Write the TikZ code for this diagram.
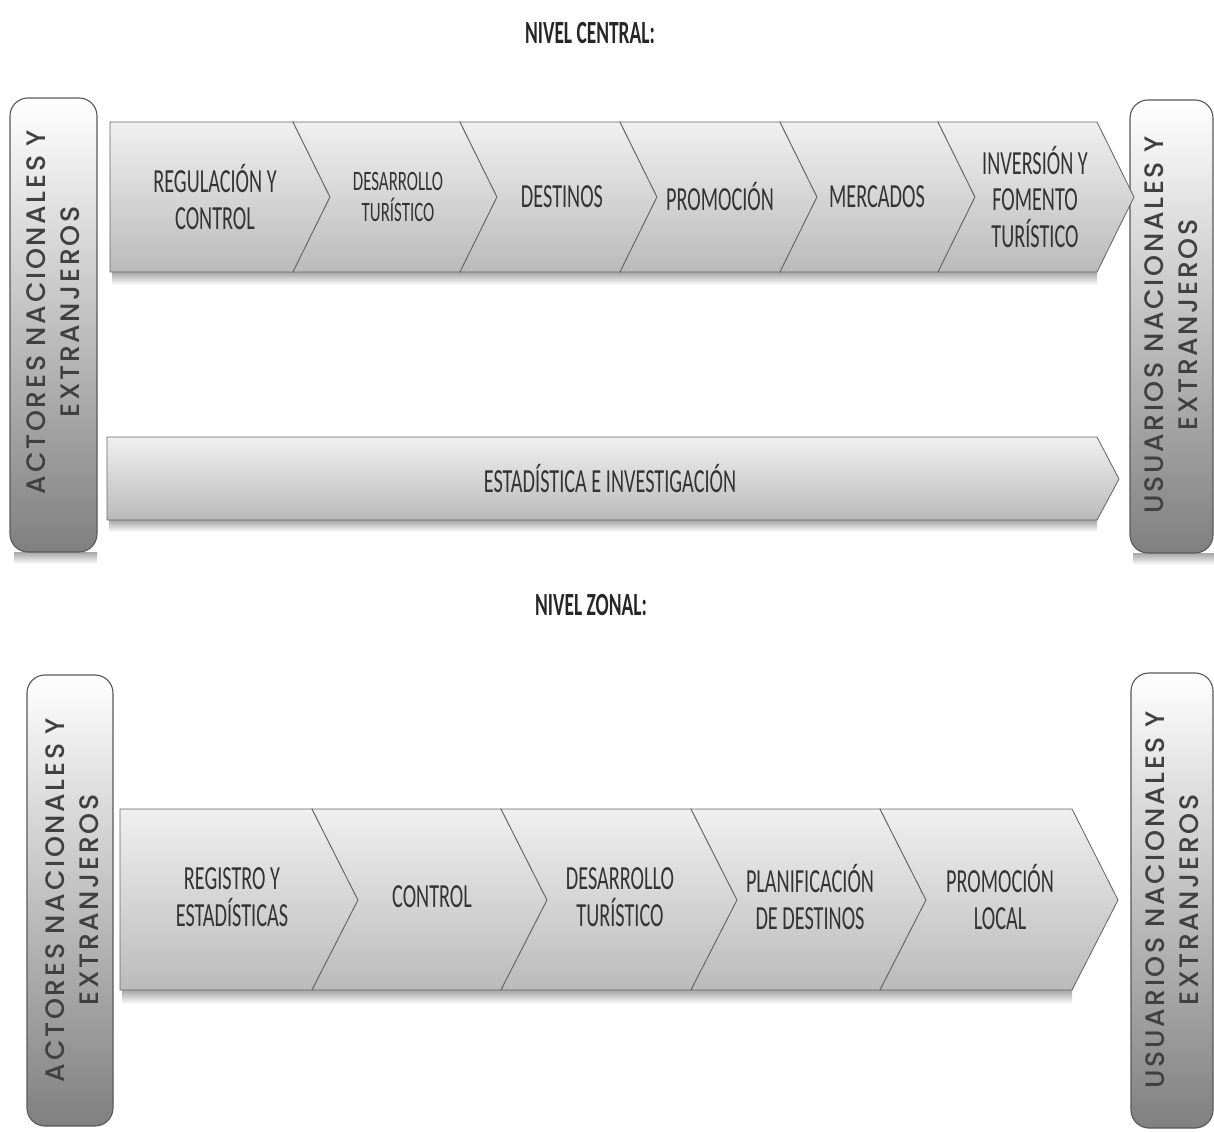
\documentclass[tikz,border=0pt]{standalone}
\usepackage{fontspec}
\newfontfamily\stagefont[FakeStretch=0.6]{Carlito}
\newfontfamily\actorfont[LetterSpace=10]{Poppins Medium}

\begin{document}
\begin{tikzpicture}[x=0.025cm,y=-0.025cm]
            \tikzset{stage/.style = {draw=black!60,line width=0.6pt,top color=black!6,bottom color=black!27}}
            \tikzset{actorbox/.style = {draw=black!65,line width=0.8pt,rounded corners=0.45cm,top color=white,bottom color=black!50}}
            \tikzset{shadebelow/.style = {top color=black!35,bottom color=white,draw=none}}
            \tikzset{steptext/.style = {align=center,text=black!80,font=\stagefont\fontsize{24}{26}\selectfont}}
            \tikzset{smallsteptext/.style = {steptext,font=\stagefont\fontsize{20}{22}\selectfont}}
            \tikzset{headtext/.style = {text=black!85,font=\stagefont\bfseries\fontsize{23}{25}\selectfont}}
            \tikzset{actortext/.style = {rotate=90,align=center,text=black!75,font=\actorfont\fontsize{19}{24}\selectfont}}
            \useasboundingbox (0,0) rectangle (1214,1131);

            % nivel central
            \node[headtext] (central) at (590,33) {NIVEL CENTRAL:};
            \path[shadebelow] (14,552) rectangle (97,564);
            \path[shadebelow] (1133,553) rectangle (1214,565);
            \path[actorbox] (10,98) rectangle (97,552);
            \path[actorbox] (1130,100) rectangle (1213,553);
            \node[actortext] (actc) at (53,312) {ACTORES NACIONALES Y\\EXTRANJEROS};
            \node[actortext] (usuc) at (1171,325) {USUARIOS NACIONALES Y\\EXTRANJEROS};

            \path[shadebelow] (112,272) rectangle (1097,285);
            \path[stage] (110,122) -- (293,122) -- (330,197) -- (293,272) -- (110,272) -- cycle;
            \foreach \xa/\xb in {293/460,460/620,620/780,780/938,938/1097}
                \path[stage] (\xa,122) -- (\xb,122) -- (\xb+37,197) -- (\xb,272) -- (\xa,272) -- (\xa+37,197) -- cycle;
            \node[steptext] (reg) at (215,197) {REGULACIÓN Y\\CONTROL};
            \node[smallsteptext] (des) at (398,197) {DESARROLLO\\TURÍSTICO};
            \node[steptext] (dst) at (562,197) {DESTINOS};
            \node[steptext] (pro) at (720,197) {PROMOCIÓN};
            \node[steptext] (mer) at (877,197) {MERCADOS};
            \node[steptext] (inv) at (1035,197) {INVERSIÓN Y\\FOMENTO\\TURÍSTICO};

            \path[shadebelow] (109,520) rectangle (1097,532);
            \path[stage] (107,437) -- (1097,437) -- (1119,479) -- (1097,520) -- (107,520) -- cycle;
            \node[steptext] (est) at (610,479) {ESTADÍSTICA E INVESTIGACIÓN};

            % nivel zonal
            \node[headtext] (zonal) at (591,605) {NIVEL ZONAL:};
            \path[actorbox] (27,675) rectangle (113,1126);
            \path[actorbox] (1131,673) rectangle (1213,1128);
            \node[actortext] (actz) at (72,900) {ACTORES NACIONALES Y\\EXTRANJEROS};
            \node[actortext] (usuz) at (1172,900) {USUARIOS NACIONALES Y\\EXTRANJEROS};

            \path[shadebelow] (122,990) rectangle (1072,1004);
            \path[stage] (120,809) -- (312,809) -- (358,900) -- (312,990) -- (120,990) -- cycle;
            \foreach \xa/\xb in {312/501,501/691,691/880,880/1072}
                \path[stage] (\xa,809) -- (\xb,809) -- (\xb+46,900) -- (\xb,990) -- (\xa,990) -- (\xa+46,900) -- cycle;
            \node[steptext] (rgs) at (232,897) {REGISTRO Y\\ESTADÍSTICAS};
            \node[steptext] (ctl) at (432,897) {CONTROL};
            \node[steptext] (dtz) at (620,897) {DESARROLLO\\TURÍSTICO};
            \node[steptext] (pla) at (810,897) {PLANIFICACIÓN\\DE DESTINOS};
            \node[steptext] (prl) at (1000,897) {PROMOCIÓN\\LOCAL};
        \end{tikzpicture}
\end{document}
